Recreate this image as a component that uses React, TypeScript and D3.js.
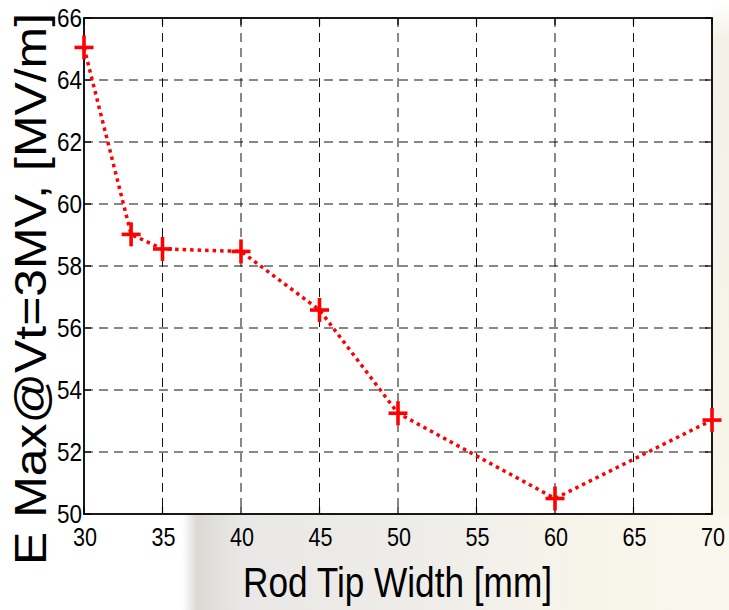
import React from "react";
import * as d3 from "d3";

const widths = [30, 33, 35, 40, 45, 50, 60, 70];
const fields = [65.05, 59.02, 58.55, 58.47, 56.58, 53.25, 50.5, 53.03];
const xTicks = [30, 35, 40, 45, 50, 55, 60, 65, 70];
const yTicks = [50, 52, 54, 56, 58, 60, 62, 64, 66];
const xLabel = "Rod Tip Width [mm]";
const yLabel = "E Max@Vt=3MV, [MV/m]";

const W = 729;
const H = 610;
const L = 84, R = 712, T = 18, B = 514;

export default function App() {
  const x = d3.scaleLinear().domain([30, 70]).range([L, R]);
  const y = d3.scaleLinear().domain([50, 66]).range([B, T]);
  const pts = widths.map((w, i) => [x(w), y(fields[i])] as [number, number]);
  const line = d3.line()(pts) || "";
  const font = "'Liberation Sans', Arial, Helvetica, sans-serif";
  const tk = 7;
  return (
    <svg width={W} height={H} style={{ position: "absolute", left: 0, top: 0, background: "#fff" }}>
      <defs>
        <linearGradient id="bg1" x1="0" x2="1" y1="0" y2="0">
          <stop offset="0" stopColor="#ffffff" />
          <stop offset="0.25" stopColor="#ffffff" />
          <stop offset="0.27" stopColor="#dcd9d5" />
          <stop offset="0.33" stopColor="#e9e8e6" />
          <stop offset="0.6" stopColor="#eeede9" />
          <stop offset="0.8" stopColor="#f7f5ea" />
          <stop offset="1" stopColor="#faf8ee" />
        </linearGradient>
        <linearGradient id="bg2" x1="0" x2="0" y1="0" y2="1">
          <stop offset="0" stopColor="#ffffff" />
          <stop offset="0.08" stopColor="#f3f1e8" />
          <stop offset="1" stopColor="#f8f6ea" />
        </linearGradient>
      </defs>
      <rect x={0} y={B} width={W} height={H - B} fill="url(#bg1)" />
      <rect x={R} y={0} width={W - R} height={B} fill="url(#bg2)" />
      <rect x={L} y={T} width={R - L} height={B - T} fill="#fff" />
      {xTicks.slice(1, -1).map((t) => (
        <line key={"gx" + t} x1={x(t)} x2={x(t)} y1={T} y2={B} stroke="#111" strokeWidth={1} strokeDasharray="9,6" />
      ))}
      {yTicks.slice(1, -1).map((t) => (
        <line key={"gy" + t} x1={L} x2={R} y1={y(t)} y2={y(t)} stroke="#111" strokeWidth={1} strokeDasharray="9,6" />
      ))}
      {xTicks.map((t) => (
        <g key={"tx" + t}>
          <line x1={x(t)} x2={x(t)} y1={B} y2={B - tk} stroke="#000" strokeWidth={1.2} />
          <line x1={x(t)} x2={x(t)} y1={T} y2={T + tk} stroke="#000" strokeWidth={1.2} />
        </g>
      ))}
      {yTicks.map((t) => (
        <g key={"ty" + t}>
          <line x1={L} x2={L + tk} y1={y(t)} y2={y(t)} stroke="#000" strokeWidth={1.2} />
          <line x1={R} x2={R - tk} y1={y(t)} y2={y(t)} stroke="#000" strokeWidth={1.2} />
        </g>
      ))}
      <rect x={L} y={T} width={R - L} height={B - T} fill="none" stroke="#000" strokeWidth={1.8} />
      <path d={line} fill="none" stroke="#ff0000" strokeWidth={3.5} strokeDasharray="3.5,4" />
      {pts.map(([px, py], i) => (
        <g key={"m" + i} stroke="#ff0000" strokeWidth={3.6}>
          <line x1={px - 9.5} x2={px + 9.5} y1={py} y2={py} />
          <line x1={px} x2={px} y1={py - 12} y2={py + 12} />
        </g>
      ))}
      {xTicks.map((t) => (
        <text key={"lx" + t} x={x(t) - 11} y={546} fontFamily={font} fontSize={26} textLength={24} lengthAdjust="spacingAndGlyphs" fill="#000">
          {t}
        </text>
      ))}
      {yTicks.map((t) => (
        <text key={"ly" + t} x={57} y={y(t) + 8.5} fontFamily={font} fontSize={26} textLength={25} lengthAdjust="spacingAndGlyphs" fill="#000">
          {t}
        </text>
      ))}
      <text x={243} y={597} fontFamily={font} fontSize={42} textLength={309} lengthAdjust="spacingAndGlyphs" fill="#000">
        {xLabel}
      </text>
      <text transform="translate(46,565) rotate(-90)" x={0} y={0} fontFamily={font} fontSize={45} textLength={552} lengthAdjust="spacingAndGlyphs" fill="#000">
        {yLabel}
      </text>
    </svg>
  );
}
